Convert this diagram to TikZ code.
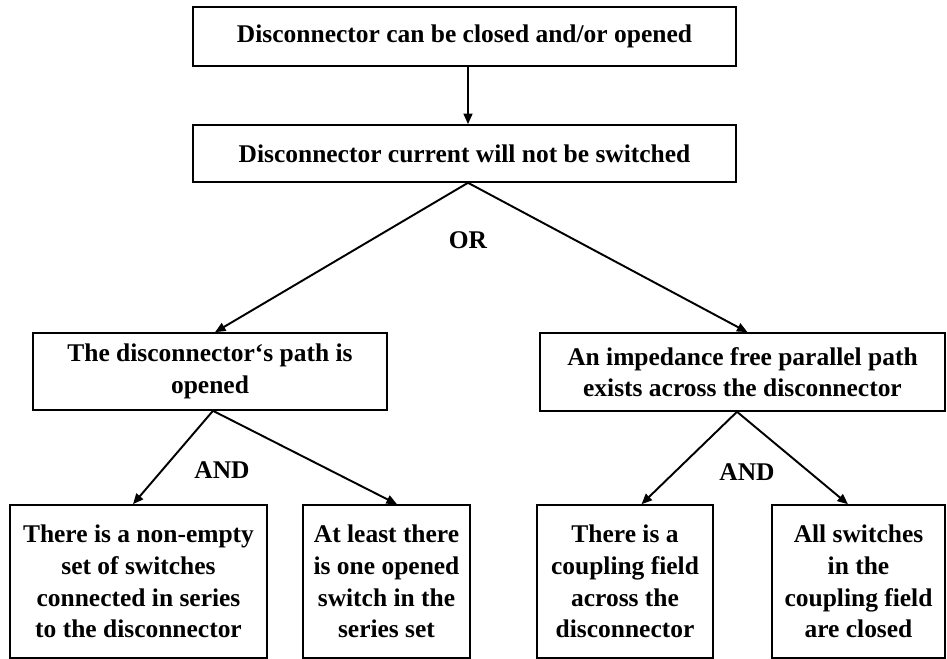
\documentclass[tikz,border=0pt]{standalone}
\usepackage{fontspec}
\setmainfont{Liberation Serif}
\usetikzlibrary{arrows.meta}
\tikzset{
    box/.style={draw, line width=0.9pt, rectangle, align=center, inner sep=2pt,
                font=\fontsize{14.5pt}{18pt}\selectfont\bfseries},
    gate/.style={font=\fontsize{14.5pt}{18pt}\selectfont\bfseries},
    link/.style={line width=1.1pt, -{Triangle[length=6pt,width=5pt]}}
}

\begin{document}
\begin{tikzpicture}[x=0.02cm,y=-0.02cm]
            \useasboundingbox (0,0) rectangle (947,659);
            \node[box, minimum width=10.86cm, minimum height=1.18cm] (closeopen) at (464.5,36.5) {Disconnector can be closed and/or opened};
            \node[box, minimum width=10.86cm, minimum height=1.14cm] (noswitch) at (464.5,153.5) {Disconnector current will not be switched};
            \node[box, minimum width=7.08cm, minimum height=1.54cm] (pathopen) at (210,371.5) {The disconnector`s path is\\opened};
            \node[box, minimum width=8.1cm, minimum height=1.56cm] (parallel) at (742.5,372) {An impedance free parallel path\\exists across the disconnector};
            \node[box, minimum width=5.14cm, minimum height=3.06cm] (seriesset) at (138.5,581.5) {There is a non-empty\\set of switches\\connected in series\\to the disconnector};
            \node[box, minimum width=3.34cm, minimum height=3.06cm] (openswitch) at (386.5,581.5) {At least there\\is one opened\\switch in the\\series set};
            \node[box, minimum width=3.52cm, minimum height=3.06cm] (field) at (625,581.5) {There is a\\coupling field\\across the\\disconnector};
            \node[box, minimum width=3.46cm, minimum height=3.06cm] (closedsw) at (858.5,581.5) {All switches\\in the\\coupling field\\are closed};

            \node[gate] (orgate) at (468,240) {OR};
            \node[gate] (andleft) at (222,470) {AND};
            \node[gate] (andright) at (747,472) {AND};

            \draw[link] ([xshift=0.07cm]closeopen.south) -- ([xshift=0.07cm]noswitch.north);
            \draw[link] ([xshift=0.07cm]noswitch.south) -- ([xshift=0.1cm]pathopen.north);
            \draw[link] ([xshift=0.07cm]noswitch.south) -- ([xshift=0.1cm]parallel.north);
            \draw[link] ([xshift=0.06cm]pathopen.south) -- ([xshift=-0.11cm]seriesset.north);
            \draw[link] ([xshift=0.06cm]pathopen.south) -- ([xshift=0.21cm]openswitch.north);
            \draw[link] ([xshift=-0.11cm]parallel.south) -- ([xshift=0.33cm]field.north);
            \draw[link] ([xshift=-0.11cm]parallel.south) -- ([xshift=-0.21cm]closedsw.north);
        \end{tikzpicture}
\end{document}
